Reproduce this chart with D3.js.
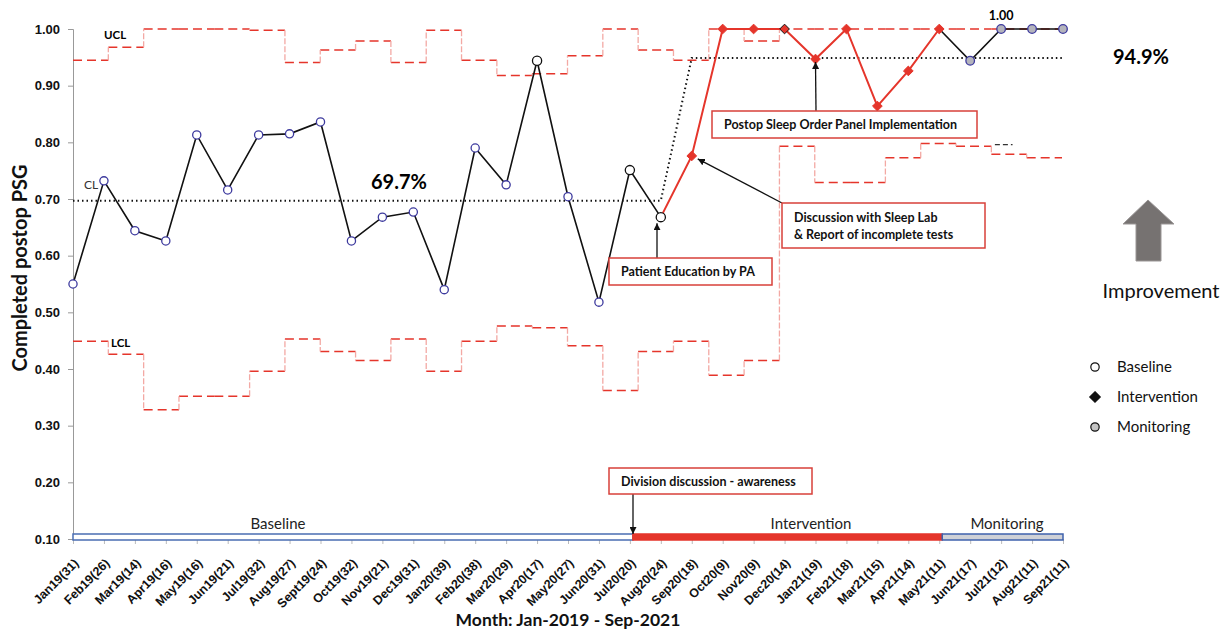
<!DOCTYPE html>
<html lang="en">
<head>
<meta charset="utf-8">
<title>Completed postop PSG - control chart</title>
<script src="https://cdn.jsdelivr.net/npm/d3@7"></script>
<style>
body { margin: 0; background: #fff; }
svg { font-family: Lato, "Open Sans", sans-serif; }
.tick-y text { font-size: 13px; font-weight: bold; fill: #111; }
.tick-x text { font-size: 12.5px; font-weight: bold; fill: #111; }
.axis-title { font-weight: bold; fill: #111; }
.note { font-size: 12.5px; font-weight: bold; fill: #111; }
.phase-label { font-size: 15px; fill: #222; }
.legend-label { font-size: 15px; fill: #111; }
</style>
</head>
<body>
<script>
// months with sample size in brackets
var months = ["Jan19(31)", "Feb19(26)", "Mar19(14)", "Apr19(16)", "May19(16)", "Jun19(21)",
  "Jul19(32)", "Aug19(27)", "Sept19(24)", "Oct19(32)", "Nov19(21)", "Dec19(31)",
  "Jan20(39)", "Feb20(38)", "Mar20(29)", "Apr20(17)", "May20(27)", "Jun20(31)",
  "Jul20(20)", "Aug20(24)", "Sep20(18)", "Oct20(9)", "Nov20(9)", "Dec20(14)",
  "Jan21(19)", "Feb21(18)", "Mar21(15)", "Apr21(14)", "May21(11)", "Jun21(17)",
  "Jul21(12)", "Aug21(11)", "Sep21(11)"];

var completed = [0.550, 0.732, 0.644, 0.626, 0.813, 0.716, 0.813, 0.815, 0.836, 0.626, 0.668, 0.677,
  0.540, 0.790, 0.725, 0.944, 0.704, 0.518, 0.751, 0.668, 0.776, 1.000, 1.000, 1.000,
  0.947, 1.000, 0.864, 0.926, 1.000, 0.944, 1.000, 1.000, 1.000];

var phases = ["Baseline", "Baseline", "Baseline", "Baseline", "Baseline", "Baseline",
  "Baseline", "Baseline", "Baseline", "Baseline", "Baseline", "Baseline",
  "Baseline", "Baseline", "Baseline", "Baseline", "Baseline", "Baseline",
  "Baseline", "Baseline", "Intervention", "Intervention", "Intervention", "Intervention",
  "Intervention", "Intervention", "Intervention", "Intervention", "Intervention", "Monitoring",
  "Monitoring", "Monitoring", "Monitoring"];

// points drawn with plain black open circles
var blackCircles = ["Apr20(17)", "Jul20(20)", "Aug20(24)"];

var centerLine = [0.697, 0.697, 0.697, 0.697, 0.697, 0.697, 0.697, 0.697, 0.697, 0.697,
  0.697, 0.697, 0.697, 0.697, 0.697, 0.697, 0.697, 0.697, 0.697, 0.697,
  0.949, 0.949, 0.949, 0.949, 0.949, 0.949, 0.949, 0.949, 0.949, 0.949, 0.949, 0.949, 0.949];

// control limits (28 steps, drawn on their own x range)
var ucl = [0.945, 0.968, 1.000, 1.000, 1.000, 0.998, 0.941, 0.963, 0.979, 0.941, 0.998, 0.945,
  0.918, 0.921, 0.953, 1.000, 0.963, 0.945, 1.000, 0.979, 1.000, 1.000, 1.000, 1.000,
  1.000, 1.000, 1.000, 1.000];
var lcl = [0.449, 0.426, 0.328, 0.352, 0.352, 0.396, 0.453, 0.431, 0.415, 0.453, 0.396, 0.449,
  0.476, 0.473, 0.441, 0.362, 0.431, 0.449, 0.389, 0.415, 0.793, 0.729, 0.729, 0.773,
  0.798, 0.793, 0.779, 0.773];

var yTicks = [0.10, 0.20, 0.30, 0.40, 0.50, 0.60, 0.70, 0.80, 0.90, 1.00];

var W = 1223, H = 629;
var red = "#e5352b", pink = "#f3a9a4", blue = "#3d3a9e";

var svg = d3.select("body").append("svg")
  .attr("width", W).attr("height", H);

var defs = svg.append("defs");
defs.append("marker")
  .attr("id", "arrow")
  .attr("viewBox", "0 0 10 10")
  .attr("refX", 10).attr("refY", 5)
  .attr("markerWidth", 7).attr("markerHeight", 7)
  .attr("markerUnits", "userSpaceOnUse")
  .attr("orient", "auto")
  .append("path").attr("d", "M0,0 L10,5 L0,10 Z").attr("fill", "#111");

var x = d3.scalePoint().domain(months).range([73, 1063]);
var xl = d3.scaleLinear().domain([0, ucl.length]).range([73, 1062]);
var y = d3.scaleLinear().domain([0.1, 1.0]).range([539, 29]);

// y axis
var yAxis = svg.append("g")
  .attr("class", "tick-y")
  .attr("transform", "translate(73,0)")
  .call(d3.axisLeft(y).tickValues(yTicks).tickFormat(d3.format(".2f")).tickSize(5).tickPadding(8));
yAxis.select(".domain").attr("stroke", "#999");
yAxis.selectAll(".tick line").attr("stroke", "#999");

// x axis (ticks only)
var xAxis = svg.append("g")
  .attr("class", "tick-x")
  .attr("transform", "translate(0,539)")
  .call(d3.axisBottom(x).tickSize(5).tickPadding(4));
xAxis.select(".domain").remove();
xAxis.selectAll(".tick line").attr("stroke", "#bbb");
xAxis.selectAll(".tick text")
  .attr("text-anchor", "end")
  .attr("transform", "translate(-7,12) rotate(-45)")
  .attr("dy", "0.75em");

svg.append("text").attr("class", "axis-title")
  .attr("transform", "translate(27,268) rotate(-90)")
  .attr("text-anchor", "middle")
  .style("font-size", "20px")
  .text("Completed postop PSG");

svg.append("text").attr("class", "axis-title")
  .attr("x", 568).attr("y", 626)
  .attr("text-anchor", "middle")
  .style("font-size", "17.5px")
  .text("Month: Jan-2019 - Sep-2021");

// control limit steps
function drawSteps(vals) {
  var g = svg.append("g");
  vals.forEach(function(v, i) {
    g.append("line")
      .attr("x1", xl(i)).attr("x2", xl(i + 1))
      .attr("y1", y(v)).attr("y2", y(v))
      .attr("stroke", red).attr("stroke-width", 1.5)
      .attr("stroke-dasharray", "9,5");
    if (i > 0 && vals[i - 1] != v) {
      g.append("line")
        .attr("x1", xl(i)).attr("x2", xl(i))
        .attr("y1", y(vals[i - 1])).attr("y2", y(v))
        .attr("stroke", pink).attr("stroke-width", 1.3)
        .attr("stroke-dasharray", "6,2");
    }
  });
}
drawSteps(ucl);
drawSteps(lcl);

// short black dashes near the intervention LCL
svg.append("line")
  .attr("x1", xl(26.1)).attr("x2", xl(26.6))
  .attr("y1", y(0.796)).attr("y2", y(0.796))
  .attr("stroke", "#333").attr("stroke-width", 1.2)
  .attr("stroke-dasharray", "5,3");

// centre line
svg.append("path")
  .datum(centerLine)
  .attr("fill", "none")
  .attr("stroke", "#111").attr("stroke-width", 2)
  .attr("stroke-dasharray", "1.5,3")
  .attr("d", d3.line()
    .x(function(d, i) { return x(months[i]); })
    .y(function(d) { return y(d); }));

// main series, coloured by phase
var line = d3.line()
  .x(function(d) { return x(months[d]); })
  .y(function(d) { return y(completed[d]); });
var idx = d3.range(months.length);
var baseIdx = idx.filter(function(i) { return phases[i] == "Baseline"; });
var intIdx = idx.filter(function(i) { return phases[i] == "Intervention"; });
var monIdx = idx.filter(function(i) { return phases[i] == "Monitoring"; });

svg.append("path").datum(baseIdx)
  .attr("fill", "none").attr("stroke", "#111").attr("stroke-width", 1.6)
  .attr("d", line);
svg.append("path").datum([intIdx[intIdx.length - 1]].concat(monIdx))
  .attr("fill", "none").attr("stroke", "#111").attr("stroke-width", 1.6)
  .attr("d", line);
svg.append("path").datum([baseIdx[baseIdx.length - 1]].concat(intIdx))
  .attr("fill", "none").attr("stroke", red).attr("stroke-width", 2)
  .attr("d", line);

// markers
svg.selectAll(".pt-base")
  .data(baseIdx).enter()
  .append("circle")
  .attr("cx", function(d) { return x(months[d]); })
  .attr("cy", function(d) { return y(completed[d]); })
  .attr("r", function(d) { return blackCircles.indexOf(months[d]) >= 0 ? 4.6 : 4.1; })
  .attr("fill", "#fff")
  .attr("stroke", function(d) { return blackCircles.indexOf(months[d]) >= 0 ? "#111" : blue; })
  .attr("stroke-width", 1.3);

svg.selectAll(".pt-int")
  .data(intIdx).enter()
  .append("path")
  .attr("d", d3.symbol().type(d3.symbolDiamond2).size(60))
  .attr("transform", function(d) { return "translate(" + x(months[d]) + "," + y(completed[d]) + ")"; })
  .attr("fill", red)
  .attr("stroke", function(d) { return months[d] == "Dec20(14)" ? "#111" : red; })
  .attr("stroke-width", 1);

svg.selectAll(".pt-mon")
  .data(monIdx).enter()
  .append("circle")
  .attr("cx", function(d) { return x(months[d]); })
  .attr("cy", function(d) { return y(completed[d]); })
  .attr("r", 4.3)
  .attr("fill", "#b4b4bc")
  .attr("stroke", blue).attr("stroke-width", 1.3);

// limit / centre labels
svg.append("text").attr("x", 104).attr("y", 39)
  .style("font-size", "11.5px").style("font-weight", "bold").text("UCL");
svg.append("text").attr("x", 111).attr("y", 347)
  .style("font-size", "11.5px").style("font-weight", "bold").text("LCL");
svg.append("text").attr("x", 84).attr("y", 189)
  .style("font-size", "12px").attr("fill", "#333").text("CL");
svg.append("text").attr("x", 399).attr("y", 189).attr("text-anchor", "middle")
  .style("font-size", "20px").style("font-weight", "bold").text("69.7%");
svg.append("text").attr("x", 1141).attr("y", 64).attr("text-anchor", "middle")
  .style("font-size", "20px").style("font-weight", "bold").text("94.9%");
svg.append("text").attr("x", x("Jul21(12)")).attr("y", 20).attr("text-anchor", "middle")
  .style("font-size", "12.5px").style("font-weight", "bold").text("1.00");

// phase bar
var barY = y(0.1) - 5, barH = 6;
var phaseBar = [
  { name: "Baseline", from: 73, to: x("Jul20(20)") + 3, fill: "#fff", stroke: "#4a6db3" },
  { name: "Intervention", from: x("Jul20(20)") + 3, to: x("May21(11)") + 3, fill: red, stroke: red },
  { name: "Monitoring", from: x("May21(11)") + 3, to: 1063, fill: "#cfd1d7", stroke: "#3f62ad" }
];
svg.selectAll(".phase")
  .data(phaseBar).enter()
  .append("rect")
  .attr("x", function(d) { return d.from; })
  .attr("y", barY)
  .attr("width", function(d) { return d.to - d.from; })
  .attr("height", barH)
  .attr("fill", function(d) { return d.fill; })
  .attr("stroke", function(d) { return d.stroke; })
  .attr("stroke-width", 1.5);
svg.selectAll(".phase-label")
  .data([{ t: "Baseline", cx: 278 }, { t: "Intervention", cx: 811 }, { t: "Monitoring", cx: 1007 }])
  .enter().append("text")
  .attr("class", "phase-label")
  .attr("x", function(d) { return d.cx; })
  .attr("y", 529)
  .attr("text-anchor", "middle")
  .text(function(d) { return d.t; });

// annotation boxes
function note(lines, bx, by, bw, bh) {
  svg.append("rect").attr("x", bx).attr("y", by).attr("width", bw).attr("height", bh)
    .attr("fill", "#fff").attr("stroke", "#d8403a").attr("stroke-width", 1.5);
  lines.forEach(function(t, i) {
    svg.append("text").attr("class", "note")
      .attr("x", bx + 12)
      .attr("y", by + (bh - lines.length * 17) / 2 + 13 + i * 17)
      .text(t);
  });
}
function arrow(x1, y1, x2, y2) {
  svg.append("line")
    .attr("x1", x1).attr("y1", y1).attr("x2", x2).attr("y2", y2)
    .attr("stroke", "#111").attr("stroke-width", 1.3)
    .attr("marker-end", "url(#arrow)");
}

arrow(816, 111, x("Jan21(19)"), y(completed[24]) + 3);
note(["Postop Sleep Order Panel Implementation"], 712, 111, 265, 27);

arrow(782, 203, x("Sep20(18)") + 6, y(completed[20]) + 3);
note(["Discussion with Sleep Lab", "& Report of incomplete tests"], 782, 203, 203, 45);

arrow(657, 258, 657, y(completed[19]) + 6);
note(["Patient Education by PA"], 609, 258, 163, 27);

arrow(633, 494, 633, barY);
note(["Division discussion - awareness"], 609, 468, 203, 26);

// improvement arrow
svg.append("path")
  .attr("d", "M1148,200 L1174,224 L1161,224 L1161,261 L1136,261 L1136,224 L1123,224 Z")
  .attr("fill", "#767271").attr("stroke", "#9a9696").attr("stroke-width", 1);
svg.append("text").attr("x", 1161).attr("y", 298).attr("text-anchor", "middle")
  .style("font-size", "20px").attr("fill", "#111").text("Improvement");

// legend
var legend = [
  { t: "Baseline", y: 367 },
  { t: "Intervention", y: 397 },
  { t: "Monitoring", y: 427 }
];
var lg = svg.selectAll(".legend")
  .data(legend).enter()
  .append("g")
  .attr("transform", function(d) { return "translate(1095," + d.y + ")"; });
lg.append("path")
  .attr("d", function(d, i) {
    return d3.symbol().type(i == 1 ? d3.symbolDiamond2 : d3.symbolCircle).size(i == 1 ? 70 : 55)();
  })
  .attr("fill", function(d, i) { return ["#fff", "#111", "#c4c4c4"][i]; })
  .attr("stroke", "#111").attr("stroke-width", 1.2);
lg.append("text").attr("class", "legend-label")
  .attr("x", 22).attr("y", 5)
  .text(function(d) { return d.t; });
</script>
</body>
</html>
